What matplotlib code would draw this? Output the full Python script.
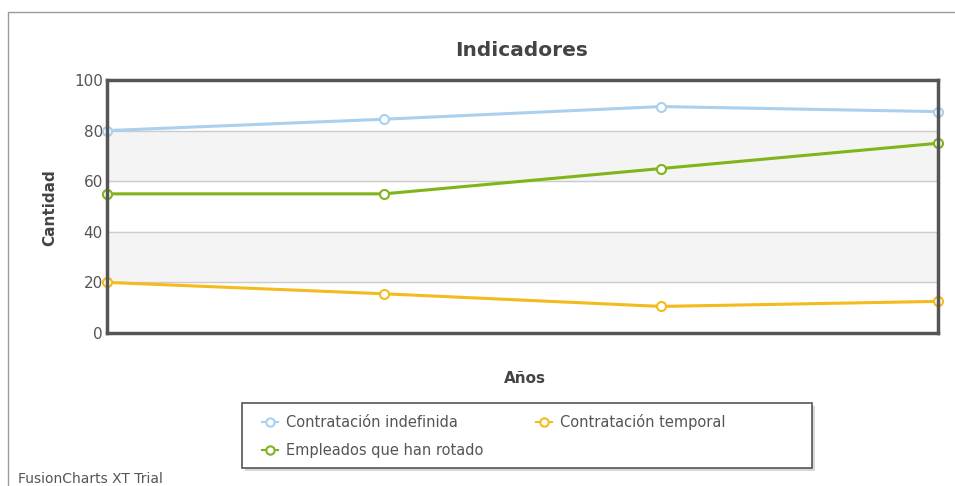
import matplotlib
matplotlib.use("Agg")
import matplotlib.pyplot as plt
from matplotlib.patches import Rectangle

# data
periods = [0, 1, 2, 3]
indefinida = [80, 84.5, 89.5, 87.5]
temporal = [20, 15.5, 10.5, 12.5]
rotado = [55, 55, 65, 75]
series_names = ["Contratación indefinida", "Contratación temporal", "Empleados que han rotado"]
yticks = [0, 20, 40, 60, 80, 100]

blue = "#abd0ee"
yellow = "#f3bb1b"
green = "#7fb51a"
txt = "#555555"

W, H = 955, 486
fig = plt.figure(figsize=(W / 100, H / 100), dpi=100)
fig.patch.set_facecolor("white")

def fx(px):
    return px / W

def fy(py):
    return 1 - py / H

# outer frame of the chart widget (partly cropped)
fig.add_artist(Rectangle((fx(8), -0.02), 1.1, fy(12) + 0.02, transform=fig.transFigure,
                         fill=False, edgecolor="#9a9a9a", lw=1))

ax = fig.add_axes([fx(107), fy(333), fx(831), 253 / H])
ax.set_xlim(periods[0], periods[-1])
ax.set_ylim(0, 100)

# alternating bands
for lo in (20, 60):
    ax.axhspan(lo, lo + 20, color="#f4f4f4", zorder=0)
for y in yticks[1:-1]:
    ax.axhline(y, color="#cccccc", lw=1, zorder=1)

style = dict(lw=2.2, marker="o", ms=6.5, mfc="white", mew=1.5, clip_on=False, zorder=3)
l1, = ax.plot(periods, indefinida, color=blue, mec=blue, label=series_names[0], **style)
l2, = ax.plot(periods, temporal, color=yellow, mec=yellow, label=series_names[1], **style)
l3, = ax.plot(periods, rotado, color=green, mec=green, label=series_names[2], **style)

for s in ax.spines.values():
    s.set_color("#555555")
    s.set_linewidth(2.5)
    s.set_zorder(4)

ax.set_xticks(periods)
ax.set_xticklabels([])
ax.tick_params(axis="x", length=0)
ax.set_yticks(yticks)
ax.tick_params(axis="y", length=0, pad=3, labelsize=11, labelcolor=txt)

fig.text(fx(522), fy(50), "Indicadores", fontsize=14.5, fontweight="bold", color="#444444",
         ha="center", va="center")
fig.text(fx(50), fy(208), "Cantidad", fontsize=11, fontweight="bold", color="#444444",
         ha="center", va="center", rotation=90)
fig.text(fx(525), fy(378), "Años", fontsize=11, fontweight="bold", color="#444444",
         ha="center", va="center")

# legend box with soft shadow
fig.add_artist(Rectangle((fx(245), fy(471)), fx(570), 65 / H, transform=fig.transFigure,
                         facecolor="#d8d8d8", edgecolor="none", zorder=5))
fig.add_artist(Rectangle((fx(242), fy(468)), fx(570), 65 / H, transform=fig.transFigure,
                         facecolor="white", edgecolor="#555555", lw=1.2, zorder=6))

# column-major fill gives indefinida/temporal on row 1, rotado on row 2
leg = fig.legend(handles=[l1, l3, l2], loc="center left",
                 bbox_to_anchor=(fx(250), fy(436)), ncol=2,
                 fontsize=10.5, frameon=False,
                 handlelength=1.1, handletextpad=0.6, columnspacing=3.55,
                 labelspacing=0.93, borderpad=0.3, labelcolor=txt)
leg.set_zorder(7)
for h in leg.legend_handles:
    h.set_linewidth(1.5)
    h.set_markersize(6)

fig.text(fx(18), fy(479), "FusionCharts XT Trial", fontsize=10, color=txt, va="center")

fig.savefig("out.png", dpi=100)
